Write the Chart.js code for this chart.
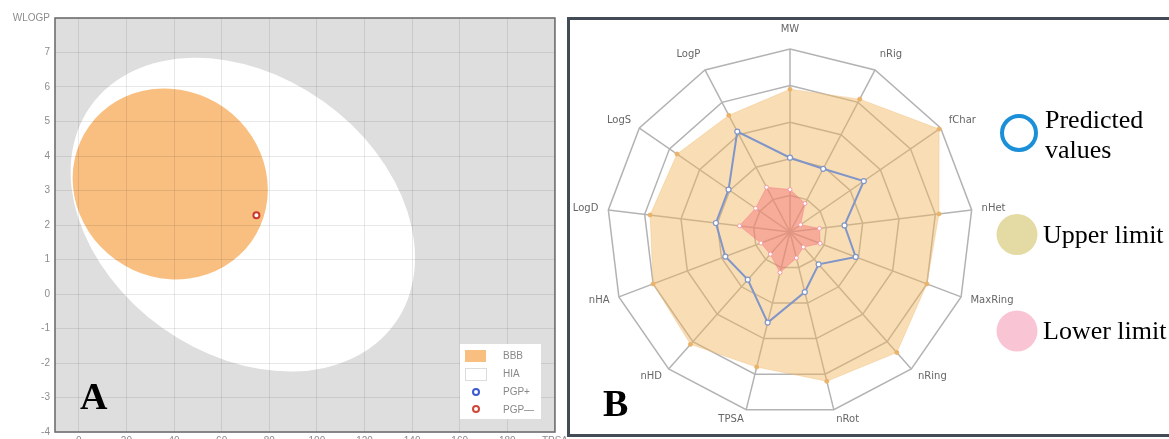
<!DOCTYPE html>
<html>
<head>
<meta charset="utf-8">
<script src="https://cdn.jsdelivr.net/npm/chart.js@4.4.1/dist/chart.umd.min.js"></script>
<style>
  html, body { margin: 0; padding: 0; background: #fff; }
  body { width: 1169px; height: 439px; overflow: hidden; position: relative; }
  #eggBox { position: absolute; left: 0; top: 0; width: 571px; height: 460px; }
  #frame { position: absolute; left: 567px; top: 17px; width: 640px; height: 420px;
           border: 3px solid #434c56; box-sizing: border-box; background: #fff; }
  #radarBox { position: absolute; left: 570px; top: 20px; width: 599px; height: 410px; }
</style>
</head>
<body>
<div id="eggBox"><canvas id="eggChart"></canvas></div>
<div id="frame"></div>
<div id="radarBox"><canvas id="radarChart"></canvas></div>
<script>
// ---- panel A : boiled egg (TPSA vs WLOGP) ----
const xTicks = [0, 20, 40, 60, 80, 100, 120, 140, 160, 180, 200];
const yTicks = [-4, -3, -2, -1, 0, 1, 2, 3, 4, 5, 6, 7, 8];

// ellipses in data units: centre, and two conjugate half axes
const hiaCenter = [68.9, 2.30];
const hiaAxisA = [63.9, -3.15];
const hiaAxisB = [-33.9, -3.28];
const bbbCenter = [38.4, 3.19];
const bbbAxisA = [34.0, -1.68];
const bbbAxisB = [-22.9, -2.20];

// the molecule (PGP-)
const pointTPSA = [74.6];
const pointWLOGP = [2.28];

const eggLegend = ['BBB', 'HIA', 'PGP+', 'PGP\u2014'];

// ---- panel B : radar ----
const radarAxes = ['MW', 'nRig', 'fChar', 'nHet', 'MaxRing', 'nRing', 'nRot', 'TPSA', 'nHD', 'nHA', 'LogD', 'LogS', 'LogP'];
const predictedValues = [2.03, 1.95, 2.45, 1.5, 1.92, 1.18, 1.69, 2.55, 1.74, 1.89, 2.04, 2.04, 3.1];
const upperLimit = [3.9, 4.1, 4.95, 4.1, 4.0, 4.4, 4.2, 3.8, 4.1, 4.0, 3.85, 3.75, 3.6];
const lowerLimit = [1.16, 0.88, 0.35, 0.81, 0.88, 0.55, 0.73, 1.14, 0.81, 0.85, 1.39, 1.14, 1.38];

function drawEllipse(ctx, x, y, c, u, v, color) {
    const cx = x.getPixelForValue(c[0]);
    const cy = y.getPixelForValue(c[1]);
    const ux = x.getPixelForValue(c[0] + u[0]) - cx;
    const uy = y.getPixelForValue(c[1] + u[1]) - cy;
    const vx = x.getPixelForValue(c[0] + v[0]) - cx;
    const vy = y.getPixelForValue(c[1] + v[1]) - cy;
    ctx.save();
    ctx.transform(ux, uy, vx, vy, cx, cy);
    ctx.beginPath();
    ctx.arc(0, 0, 1, 0, Math.PI * 2);
    ctx.restore();
    ctx.fillStyle = color;
    ctx.fill();
}

const eggPlugin = {
    id: 'egg',
    beforeDraw(chart) {
        const { ctx, chartArea: a, scales: { x, y } } = chart;
        ctx.save();
        ctx.fillStyle = '#dedede';
        ctx.fillRect(a.left, a.top, a.width, a.height);
        ctx.beginPath();
        ctx.rect(a.left, a.top, a.width, a.height);
        ctx.clip();
        drawEllipse(ctx, x, y, hiaCenter, hiaAxisA, hiaAxisB, '#ffffff');
        drawEllipse(ctx, x, y, bbbCenter, bbbAxisA, bbbAxisB, '#f9bf80');
        ctx.restore();
    },
    afterDraw(chart) {
        const { ctx, chartArea: a } = chart;
        ctx.save();
        ctx.strokeStyle = '#6e6e6e';
        ctx.lineWidth = 1.6;
        ctx.strokeRect(a.left, a.top, a.width, a.height);

        // legend box
        ctx.fillStyle = '#fff';
        ctx.fillRect(460, 344, 81, 75);
        ctx.fillStyle = '#f9bf80';
        ctx.fillRect(465, 350, 21, 12);
        ctx.strokeStyle = '#dcdcdc';
        ctx.lineWidth = 1;
        ctx.strokeRect(465.5, 368.5, 21, 12);
        ctx.lineWidth = 2;
        ctx.strokeStyle = '#3b5bd0';
        ctx.beginPath(); ctx.arc(476, 392, 3, 0, Math.PI * 2); ctx.stroke();
        ctx.strokeStyle = '#d0473a';
        ctx.beginPath(); ctx.arc(476, 409, 3, 0, Math.PI * 2); ctx.stroke();
        ctx.fillStyle = '#888';
        ctx.font = '10px "Liberation Sans"';
        ctx.textBaseline = 'middle';
        eggLegend.forEach((t, i) => ctx.fillText(t, 503, 356 + i * 18));

        ctx.fillStyle = '#000';
        ctx.font = 'bold 38px "Liberation Serif"';
        ctx.textBaseline = 'alphabetic';
        ctx.fillText('A', 80, 409);
        ctx.restore();
    }
};

const tickFont = { family: 'Liberation Sans', size: 10 };

new Chart(document.getElementById('eggChart'), {
    type: 'scatter',
    data: {
        datasets: [{
            label: 'PGP\u2014',
            data: pointTPSA.map((t, i) => ({ x: t, y: pointWLOGP[i] })),
            pointRadius: 3,
            pointBorderWidth: 2,
            pointBackgroundColor: '#fff',
            pointBorderColor: '#c9392e'
        }]
    },
    options: {
        responsive: true,
        maintainAspectRatio: false,
        animation: false,
        layout: { padding: { top: 18, right: 13, left: 0, bottom: 0 } },
        plugins: { legend: { display: false }, tooltip: { enabled: false } },
        scales: {
            x: {
                type: 'linear', min: -10, max: 200,
                afterBuildTicks: s => { s.ticks = xTicks.map(v => ({ value: v })); },
                afterFit: s => { s.height = 28; },
                grid: { color: 'rgba(0,0,0,0.09)', drawTicks: false },
                border: { display: false },
                ticks: { padding: 3, color: '#8c8c8c', font: tickFont, maxRotation: 0, autoSkip: false,
                         callback: v => v === 200 ? 'TPSA' : v }
            },
            y: {
                type: 'linear', min: -4, max: 8,
                afterBuildTicks: s => { s.ticks = yTicks.map(v => ({ value: v })); },
                afterFit: s => { s.width = 55; },
                grid: { color: 'rgba(0,0,0,0.09)', drawTicks: false },
                border: { display: false },
                ticks: { padding: 5, color: '#8c8c8c', font: tickFont, autoSkip: false,
                         callback: v => v === 8 ? 'WLOGP' : v }
            }
        }
    },
    plugins: [eggPlugin]
});

const radarPlugin = {
    id: 'radarDecor',
    afterDraw(chart) {
        const ctx = chart.ctx;
        const r = chart.scales.r;
        ctx.save();
        ctx.font = '10px "DejaVu Sans"';
        ctx.fillStyle = '#666';
        ctx.textBaseline = 'middle';
        radarAxes.forEach((name, i) => {
            const ang = r.getIndexAngle(i);
            const p = r.getPointPosition(i, r.drawingArea + 10);
            const s = Math.sin(ang), c = Math.cos(ang);
            ctx.textAlign = Math.abs(s) < 0.05 ? 'center' : (s > 0 ? 'left' : 'right');
            const dy = c > 0 ? -10 * c * c * c : 0;
            ctx.fillText(name, p.x, p.y + dy);
        });

        // legend on the right
        ctx.textAlign = 'left';
        ctx.textBaseline = 'alphabetic';
        ctx.lineWidth = 4;
        ctx.strokeStyle = '#1b8fd8';
        ctx.beginPath(); ctx.arc(449, 113, 17, 0, Math.PI * 2); ctx.stroke();
        ctx.fillStyle = '#e3dba3';
        ctx.beginPath(); ctx.arc(447, 214.5, 20.5, 0, Math.PI * 2); ctx.fill();
        ctx.fillStyle = '#f9c5d5';
        ctx.beginPath(); ctx.arc(447, 311, 20.5, 0, Math.PI * 2); ctx.fill();
        ctx.fillStyle = '#000';
        ctx.font = '26px "Liberation Serif"';
        ctx.fillText('Predicted', 475, 108);
        ctx.fillText('values', 475, 138);
        ctx.fillText('Upper limit', 473, 222.5);
        ctx.fillText('Lower limit', 473, 319);

        ctx.font = 'bold 38px "Liberation Serif"';
        ctx.fillText('B', 33, 396);
        ctx.restore();
    }
};

new Chart(document.getElementById('radarChart'), {
    type: 'radar',
    data: {
        labels: radarAxes,
        datasets: [
            {
                label: 'Predicted values',
                data: predictedValues,
                borderColor: '#8095c8',
                borderWidth: 2,
                backgroundColor: 'rgba(0,0,0,0)',
                fill: false,
                pointRadius: 2.5,
                pointBorderWidth: 1.2,
                pointBackgroundColor: '#fff',
                pointBorderColor: '#8095c8'
            },
            {
                label: 'Lower limit',
                data: lowerLimit,
                borderColor: 'rgba(240,120,130,0.45)',
                borderWidth: 1,
                backgroundColor: 'rgba(245,110,120,0.45)',
                fill: true,
                pointRadius: 2,
                pointBorderWidth: 1,
                pointBackgroundColor: '#fff',
                pointBorderColor: '#f29aa2'
            },
            {
                label: 'Upper limit',
                data: upperLimit,
                borderColor: 'rgba(240,190,120,0.4)',
                borderWidth: 1,
                backgroundColor: 'rgba(242,180,90,0.45)',
                fill: true,
                pointRadius: 2,
                pointBorderWidth: 1,
                pointBackgroundColor: '#eab36a',
                pointBorderColor: '#eab36a'
            }
        ]
    },
    options: {
        responsive: true,
        maintainAspectRatio: false,
        animation: false,
        layout: { padding: { left: 37, top: 29, right: 196, bottom: 15 } },
        plugins: { legend: { display: false }, tooltip: { enabled: false } },
        scales: {
            r: {
                min: 0, max: 5,
                ticks: { display: false, stepSize: 1 },
                pointLabels: { display: false },
                grid: { color: '#b3b3b3', lineWidth: 1.5 },
                angleLines: { color: '#b3b3b3', lineWidth: 1.5 }
            }
        }
    },
    plugins: [radarPlugin]
});
</script>
</body>
</html>
